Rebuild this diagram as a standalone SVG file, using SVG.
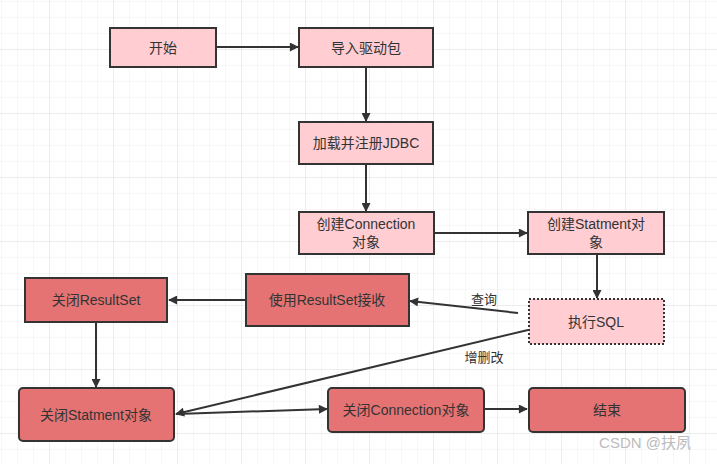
<svg xmlns="http://www.w3.org/2000/svg" width="717" height="464" viewBox="0 0 717 464">
<style>
.lt{fill:#ffcdd2;stroke:#333;stroke-width:2}
.dk{fill:#e57373;stroke:#333;stroke-width:2}
.t{font-family:"Liberation Sans","Noto Sans CJK SC",sans-serif;font-size:14px;fill:#333;text-anchor:middle;dominant-baseline:central}
.c{stroke:#333;stroke-width:2;fill:none;marker-end:url(#ah)}
.lb{font-family:"Liberation Sans","Noto Sans CJK SC",sans-serif;font-size:13px;fill:#333;text-anchor:middle}
</style>
<defs>
<marker id="ah" viewBox="0 0 10 10" refX="9" refY="5" markerWidth="10" markerHeight="9" markerUnits="userSpaceOnUse" orient="auto"><path d="M0,0 L10,5 L0,10 z" fill="#333"/></marker>
<pattern id="gmin" width="16" height="16" patternUnits="userSpaceOnUse" x="1" y="1"><path d="M0,0 H16 M0,0 V16" stroke="#f0f0f0" stroke-width="1" fill="none"/></pattern>
<pattern id="gmaj" width="64" height="64" patternUnits="userSpaceOnUse" x="49" y="49"><path d="M0,0 H64 M0,0 V64" stroke="#e2e2e2" stroke-width="1" fill="none"/></pattern>
</defs>
<rect width="717" height="464" fill="#fff"/>
<rect width="717" height="464" fill="url(#gmin)"/>
<rect width="717" height="464" fill="url(#gmaj)"/>
<g id="connectors">
<path class="c" d="M216,47 H298"/>
<path class="c" d="M366,67 V121"/>
<path class="c" d="M366,164 V211"/>
<path class="c" d="M434,233 H527"/>
<path class="c" d="M597,254 V298"/>
<path class="c" d="M518,313 L410,301"/>
<path class="c" d="M528,330 L176,414"/>
<path class="c" d="M246,300 H169"/>
<path class="c" d="M96,322 V387"/>
<path class="c" d="M177,414 L327,409"/>
<path class="c" d="M484,409 H527"/>
<text class="lb" x="484" y="304">查询</text>
<text class="lb" x="484" y="362">增删改</text>
</g>
<g id="n-start"><rect class="lt" x="110" y="28" width="106" height="39"/><text class="t" x="163" y="47.5">开始</text></g>
<g id="n-import"><rect class="lt" x="299" y="28" width="134" height="39"/><text class="t" x="366" y="47.5">导入驱动包</text></g>
<g id="n-load"><rect class="lt" x="299" y="122" width="134" height="42"/><text class="t" x="366" y="143">加载并注册JDBC</text></g>
<g id="n-conn"><rect class="lt" x="299" y="212" width="135" height="42"/><text class="t" x="366" y="224">创建Connection</text><text class="t" x="366" y="242">对象</text></g>
<g id="n-stmt"><rect class="lt" x="528" y="212" width="136" height="42"/><text class="t" x="596" y="224">创建Statment对</text><text class="t" x="596" y="242">象</text></g>
<g id="n-exec"><rect x="529" y="299" width="135" height="45" fill="#ffcdd2" stroke="#333" stroke-width="2" stroke-dasharray="2,2"/><text class="t" x="596" y="322">执行SQL</text></g>
<g id="n-use"><rect class="dk" x="246" y="274" width="163" height="52"/><text class="t" x="327" y="300">使用ResultSet接收</text></g>
<g id="n-closers"><rect class="dk" x="25" y="278" width="142" height="44"/><text class="t" x="96" y="300">关闭ResultSet</text></g>
<g id="n-closestmt"><rect class="dk" x="19" y="388" width="155" height="53" rx="4"/><text class="t" x="96" y="415">关闭Statment对象</text></g>
<g id="n-closeconn"><rect class="dk" x="328" y="388" width="156" height="44" rx="4"/><text class="t" x="406" y="410">关闭Connection对象</text></g>
<g id="n-end"><rect class="dk" x="529" y="388" width="156" height="44" rx="4"/><text class="t" x="607" y="410">结束</text></g>
<text x="645" y="448" font-family="Liberation Sans,Noto Sans CJK SC,sans-serif" font-size="15" fill="#bbb" text-anchor="middle">CSDN @扶夙</text>
</svg>
